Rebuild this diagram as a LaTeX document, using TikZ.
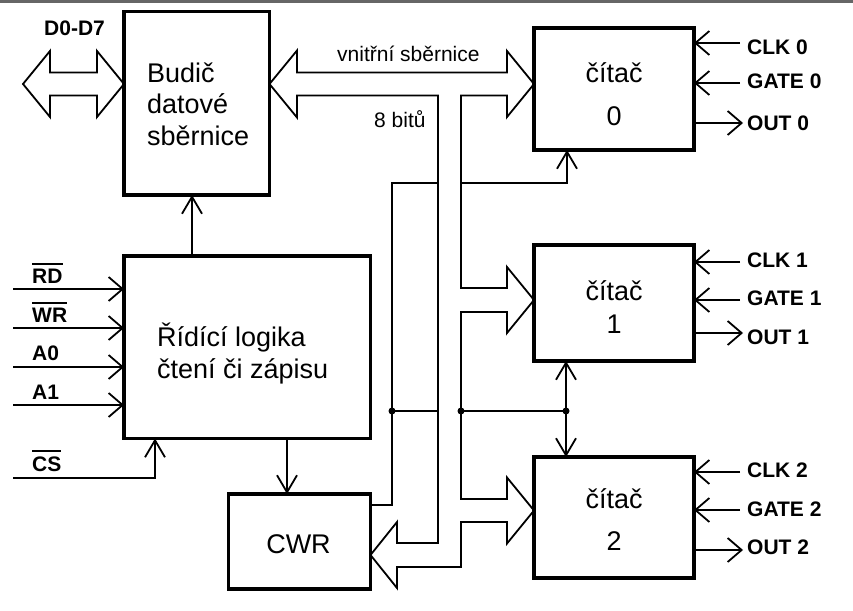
\documentclass[tikz,border=0pt]{standalone}
\usepackage{fontspec}
\setmainfont{Liberation Sans}
\usetikzlibrary{arrows.meta}
\newcommand\myovl[1]{\vbox{\hrule height 2pt\kern 4pt\hbox{#1}}}
\begin{document}
\begin{tikzpicture}[x=1pt,y=-1pt,
  box/.style={draw, line width=3.5pt, inner sep=0pt, outer sep=0pt},
  wire/.style={line width=1.8pt},
  htip/.style={wire, -{Straight Barb[length=14pt,width=24pt]}},
  vtip/.style={wire, -{Straight Barb[length=17pt,width=20pt]}},
  vboth/.style={wire, {Straight Barb[length=17pt,width=20pt]}-{Straight Barb[length=17pt,width=20pt]}},
  bus/.style={line width=1.8pt, line join=miter},
  txt/.style={inner sep=0pt, font=\fontsize{27}{32}\selectfont},
  lab/.style={inner sep=0pt, font=\fontsize{21}{25}\selectfont\bfseries},
  small/.style={inner sep=0pt, font=\fontsize{21}{25}\selectfont},
  dot/.style={fill, circle, inner sep=0pt, minimum size=7pt}]
\useasboundingbox (0,0) rectangle (853,610);
\fill[white] (0,0) rectangle (853,610);
\fill[black!60] (0,0) rectangle (853,3.5);

% boxes
\node[box, minimum width=145.5pt, minimum height=183.5pt] (b) at (196.75,103.25) {};
\node[box, minimum width=246.5pt, minimum height=182.5pt] (r) at (247.25,347.25) {};
\node[box, minimum width=142pt, minimum height=95pt] (w) at (299.5,541.5) {};
\node[box, minimum width=160pt, minimum height=122pt] (c0) at (614,89) {};
\node[box, minimum width=160pt, minimum height=116pt] (c1) at (614,303) {};
\node[box, minimum width=160pt, minimum height=121pt] (c2) at (614,517.5) {};

% box texts
\node[txt, anchor=base west] (bt1) at (147,82) {Budič};
\node[txt, anchor=base west] (bt2) at (147,113) {datové};
\node[txt, anchor=base west] (bt3) at (147,145) {sběrnice};
\node[txt, anchor=base west] (rt1) at (157,346) {Řídící logika};
\node[txt, anchor=base west] (rt2) at (157,378) {čtení či zápisu};
\node[txt, anchor=base] (wt) at (298.5,553) {CWR};
\node[txt, anchor=base] (c0a) at (614,82) {čítač};
\node[txt, anchor=base] (c0b) at (614,125) {0};
\node[txt, anchor=base] (c1a) at (614,300) {čítač};
\node[txt, anchor=base] (c1b) at (614,333) {1};
\node[txt, anchor=base] (c2a) at (614,508) {čítač};
\node[txt, anchor=base] (c2b) at (614,550) {2};

% external data bus
\draw[bus] (23,84) -- (50,51) -- (50,72.5) -- (97,72.5) -- (97,51) -- (b.west |- 0,84)
  -- (97,117) -- (97,95.5) -- (50,95.5) -- (50,117) -- cycle;
\node[lab, anchor=base west] (d07) at (44,36) {D0-D7};

% internal bus
\draw[bus] (297,95.5) -- (438,95.5) -- (438,543) -- (397,543) -- (397,522) -- (w.east |- 0,555)
  -- (397,588) -- (397,567) -- (461,567) -- (461,522) -- (507,522) -- (507,543.5)
  -- (c2.west |- 0,510.5) -- (507,477.5) -- (507,499) -- (461,499) -- (461,312)
  -- (507,312) -- (507,333) -- (c1.west |- 0,300) -- (507,267) -- (507,288) -- (461,288)
  -- (461,95.5) -- (507,95.5) -- (507,117) -- (c0.west |- 0,84) -- (507,51) -- (507,72.5)
  -- (297,72.5) -- (297,50.5) -- (b.east |- 0,84) -- (297,117.5) -- cycle;
\node[small, anchor=base west] (vs) at (337,62) {vnitřní sběrnice};
\node[small, anchor=base west] (b8) at (374,127) {8 bitů};

% control wiring
\coordinate (bd) at (192,256);
\draw[vtip] (bd) -- (bd |- b.south);
\coordinate (rw) at (287,438.5);
\draw[vtip] (rw) -- (rw |- w.north);
\coordinate (cs0) at (13,478);
\coordinate (cs1) at (155,478);
\draw[vtip] (cs0) -- (cs1) -- (cs1 |- r.south);

\coordinate (inRD) at (13,289);
\coordinate (inWR) at (13,328);
\coordinate (inA0) at (13,367);
\coordinate (inA1) at (13,405);
\draw[htip] (inRD) -- (inRD -| r.west);
\draw[htip] (inWR) -- (inWR -| r.west);
\draw[htip] (inA0) -- (inA0 -| r.west);
\draw[htip] (inA1) -- (inA1 -| r.west);
\node[lab, anchor=base west] (lRD) at (32,283) {\myovl{RD}};
\node[lab, anchor=base west] (lWR) at (32,322) {\myovl{WR}};
\node[lab, anchor=base west] (lA0) at (32,360) {A0};
\node[lab, anchor=base west] (lA1) at (32,399) {A1};
\node[lab, anchor=base west] (lCS) at (32,471) {\myovl{CS}};

% CWR output line and junctions
\coordinate (wo) at (392,505);
\coordinate (wt2) at (392,183);
\coordinate (wt3) at (438,183);
\draw[wire] (wo -| w.east) -- (wo) -- (wt2) -- (wt3);
\node[dot] (d1) at (392,411) {};
\node[dot] (d2) at (461,411) {};
\node[dot] (d3) at (566,411) {};
\coordinate (d1r) at (438,411);
\draw[wire] (d1.center) -- (d1r);
\draw[wire] (d2.center) -- (d3.center);
\draw[vboth] (d3 |- c1.south) -- (d3 |- c2.north);
\coordinate (j0) at (461,183);
\coordinate (k0) at (567,183);
\draw[vtip] (j0) -- (k0) -- (k0 |- c0.south);

% counter I/O
\foreach \n/\yc/\yg/\yo/\bc/\bg/\bo in {0/43/83/123/55/88/130, 1/262/300/333/267/305/344, 2/472/510/550/477/516/554} {
  \coordinate (clk\n) at (740,\yc);
  \coordinate (gate\n) at (740,\yg);
  \coordinate (out\n) at (743,\yo);
  \draw[htip] (clk\n) -- (clk\n -| c\n.east);
  \draw[htip] (gate\n) -- (gate\n -| c\n.east);
  \draw[htip] (out\n -| c\n.east) -- (out\n);
  \node[lab, anchor=base west] (lclk\n) at (747,\bc) {CLK \n};
  \node[lab, anchor=base west] (lgate\n) at (747,\bg) {GATE \n};
  \node[lab, anchor=base west] (lout\n) at (747,\bo) {OUT \n};
}
\end{tikzpicture}
\end{document}
